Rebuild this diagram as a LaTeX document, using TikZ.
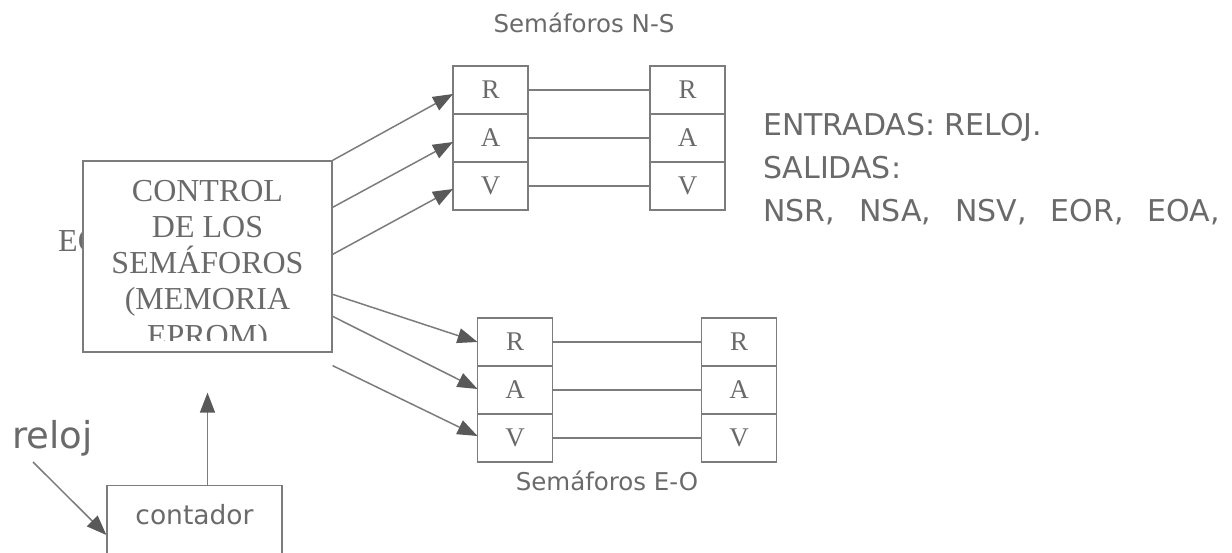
\documentclass[tikz,border=0pt]{standalone}
\usepackage{fontspec}
\setmainfont{Liberation Serif}
\newfontfamily\sansf{DejaVu Sans}
\usetikzlibrary{arrows.meta,positioning,calc}
\definecolor{lncol}{HTML}{7C7C7C}
\definecolor{txcol}{HTML}{6A6A6A}
\definecolor{tipcol}{HTML}{595959}
\tikzset{
    ctrlbox/.style={rectangle,draw=lncol,fill=white,line width=1.3pt,minimum width=249pt,minimum height=191pt,inner sep=0pt},
    ctrltext/.style={align=center,text=txcol,font=\fontsize{32}{36.3}\selectfont,inner sep=0pt},
    lampcell/.style={rectangle,draw=lncol,line width=1.3pt,minimum width=75pt,minimum height=48pt,inner sep=0pt,outer sep=0pt,text=txcol,font=\fontsize{27}{27}\selectfont},
    cntbox/.style={rectangle,draw=lncol,line width=1.3pt,minimum width=175pt,text height=39pt,text depth=40pt,inner sep=0pt,text=txcol,font=\sansf\fontsize{26.5}{26.5}\selectfont},
    lampline/.style={draw=lncol,line width=1.2pt},
    sigline/.style={-{Triangle[length=20pt,width=15pt,color=tipcol]},draw=lncol,line width=1.5pt},
    titletext/.style={text=txcol,font=\sansf\fontsize{24.5}{24.5}\selectfont,inner sep=0pt},
    infotext/.style={text=txcol,font=\sansf\fontsize{30}{30}\selectfont,inner sep=0pt},
    clocktext/.style={text=txcol,font=\sansf\fontsize{37}{37}\selectfont,inner sep=0pt}
}

\begin{document}
\begin{tikzpicture}[x=1pt,y=-1pt]
        \clip (0,0) rectangle (1232,553);
        % bloque de control
        \node[ctrltext,anchor=base west] (eoLabel) at (58,252) {EO};
        \node[ctrlbox] (control) at (207.5,256.5) {};
        \begin{scope}
            \clip (control.north west) rectangle ([yshift=12pt]control.south east);
            \node[ctrltext] (ctrlText) at ([yshift=-10pt]control.center) {CONTROL\\DE LOS\\SEMÁFOROS\\(MEMORIA\\EPROM)};
        \end{scope}
        % semaforos N-S
        \node[lampcell] (nsR) at (490.5,90) {R};
        \node[lampcell,below=0pt of nsR] (nsA) {A};
        \node[lampcell,below=0pt of nsA] (nsV) {V};
        \node[lampcell,right=122pt of nsR] (ns2R) {R};
        \node[lampcell,below=0pt of ns2R] (ns2A) {A};
        \node[lampcell,below=0pt of ns2A] (ns2V) {V};
        \node[titletext,anchor=base] (nsTitle) at (584,33) {Semáforos N-S};
        % semaforos E-O
        \node[lampcell] (eoR) at (515,342) {R};
        \node[lampcell,below=0pt of eoR] (eoA) {A};
        \node[lampcell,below=0pt of eoA] (eoV) {V};
        \node[lampcell,right=149pt of eoR] (eo2R) {R};
        \node[lampcell,below=0pt of eo2R] (eo2A) {A};
        \node[lampcell,below=0pt of eo2A] (eo2V) {V};
        \node[titletext,anchor=base] (eoTitle) at (607,490) {Semáforos E-O};
        \foreach \c in {R,A,V} {
            \draw[lampline] (ns\c) -- (ns2\c);
            \draw[lampline] (eo\c) -- (eo2\c);
        }
        % entradas y salidas
        \node[infotext,anchor=base west] (entradas) at (763,135.5) {ENTRADAS: RELOJ.};
        \node[infotext,anchor=base west] (salidas) at ($(entradas.base west)+(0,43)$) {SALIDAS:};
        \node[infotext,anchor=base west] (salList) at ($(salidas.base west)+(0,43.5)$) {NSR,\hspace{24pt}NSA,\hspace{24pt}NSV,\hspace{24pt}EOR,\hspace{24pt}EOA,};
        % contador y reloj
        \node[cntbox,anchor=north] (contador) at (194.5,485) {contador};
        \node[clocktext,anchor=base west] (reloj) at (12,448) {reloj};
        \coordinate (eoFree) at ($(control.south east)+(0,13)$);
        % senales
        \draw[sigline] (control.north east) -- ([yshift=-4pt]nsR.west);
        \draw[sigline] ($(control.north east)+(0,47)$) -- ([yshift=-4pt]nsA.west);
        \draw[sigline] ($(control.north east)+(0,94)$) -- ([yshift=-3pt]nsV.west);
        \draw[sigline] ($(control.north east)+(0,134)$) -- (eoR.west);
        \draw[sigline] ($(control.north east)+(0,156)$) -- ([yshift=1pt]eoA.west);
        \draw[sigline] (eoFree) -- ([yshift=2pt]eoV.west);
        \draw[sigline,shorten >=40pt] (contador.north -| control.south) -- (control.south);
        \draw[sigline] ($(reloj.base west)+(21,14)$) -- ($(contador.north west)+(0,50)$);
    \end{tikzpicture}
\end{document}
